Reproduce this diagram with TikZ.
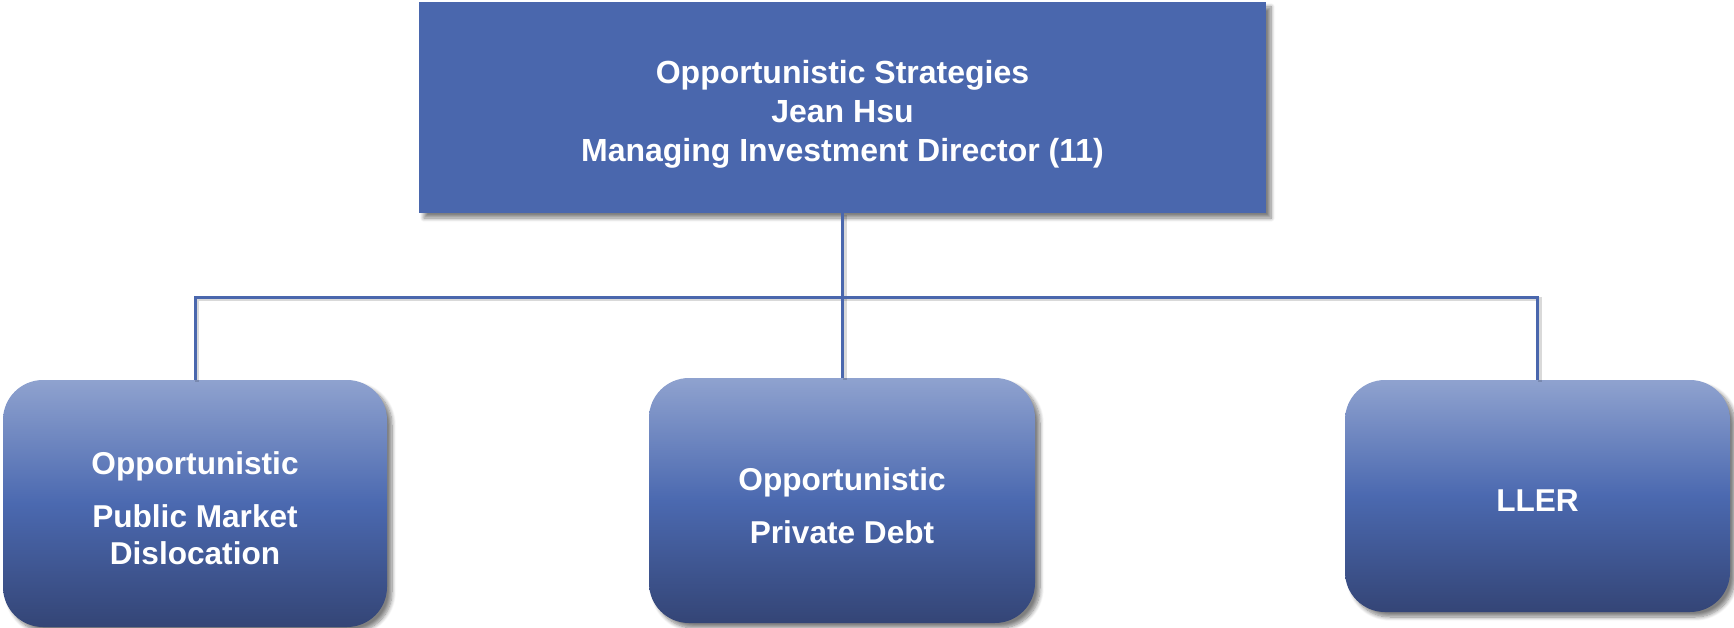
\documentclass[tikz,border=0pt]{standalone}
\usepackage{fontspec}
\setmainfont{Liberation Sans}
\usetikzlibrary{shadows.blur}
\definecolor{boxblue}{HTML}{4A67AD}
\definecolor{gtop}{HTML}{8FA2CF}
\definecolor{gmid}{HTML}{4B69B0}
\definecolor{gbot}{HTML}{344576}
\begin{document}
\begin{tikzpicture}[x=1pt,y=-1pt,
  softshadow/.style={blur shadow={shadow xshift=5pt, shadow yshift=-5pt, shadow blur steps=8, shadow blur radius=4pt, shadow opacity=50}},
  topbox/.style={rectangle, fill=boxblue, minimum width=847pt, minimum height=211pt, inner sep=0pt, softshadow},
  toptext/.style={text=white, font=\bfseries\fontsize{32}{39}\selectfont, align=center, inner sep=0pt},
  unitbox/.style={rectangle, rounded corners=40pt, top color=gtop, bottom color=gbot, middle color=gmid,
    inner sep=0pt, softshadow},
  unittext/.style={text=white, font=\bfseries\fontsize{31.6}{37}\selectfont, align=center, inner sep=0pt},
  link/.style={draw=boxblue, line width=3pt},
  linkshadow/.style={draw=black, opacity=0.15, line width=4pt}
]
\useasboundingbox (0,0) rectangle (1734,628);

\coordinate (bar) at (0,297);

\node[topbox] (top) at (842.5,107.5) {};
\node[toptext] (toplbl) at ([yshift=-7pt]top.center) {Opportunistic Strategies\\Jean Hsu\\Managing Investment Director (11)};

\node[unitbox, minimum width=384pt, minimum height=247pt] (left) at (195,503.5) {};
\node[unittext] (leftlbl) at ([yshift=-5pt]left.center) {Opportunistic\\[16pt]Public Market\\Dislocation};
\node[unitbox, minimum width=386pt, minimum height=245pt] (mid) at (842,500.5) {};
\node[unittext] (midlbl) at ([yshift=-5pt]mid.center) {Opportunistic\\[16pt]Private Debt};
\node[unitbox, minimum width=385pt, minimum height=232pt] (right) at (1537.5,496) {};
\node[unittext] (rightlbl) at ([yshift=-5pt]right.center) {LLER};

\begin{scope}[transform canvas={shift={(2pt,-2pt)}}]
  \draw[linkshadow] (left.north) -- (left.north |- bar) -- (right.north |- bar) -- (right.north);
  \draw[linkshadow] (top.south) -- (top.south |- mid.north);
\end{scope}
\draw[link] (left.north) -- (left.north |- bar) -- (right.north |- bar) -- (right.north);
\draw[link] (top.south) -- (top.south |- mid.north);
\end{tikzpicture}
\end{document}
